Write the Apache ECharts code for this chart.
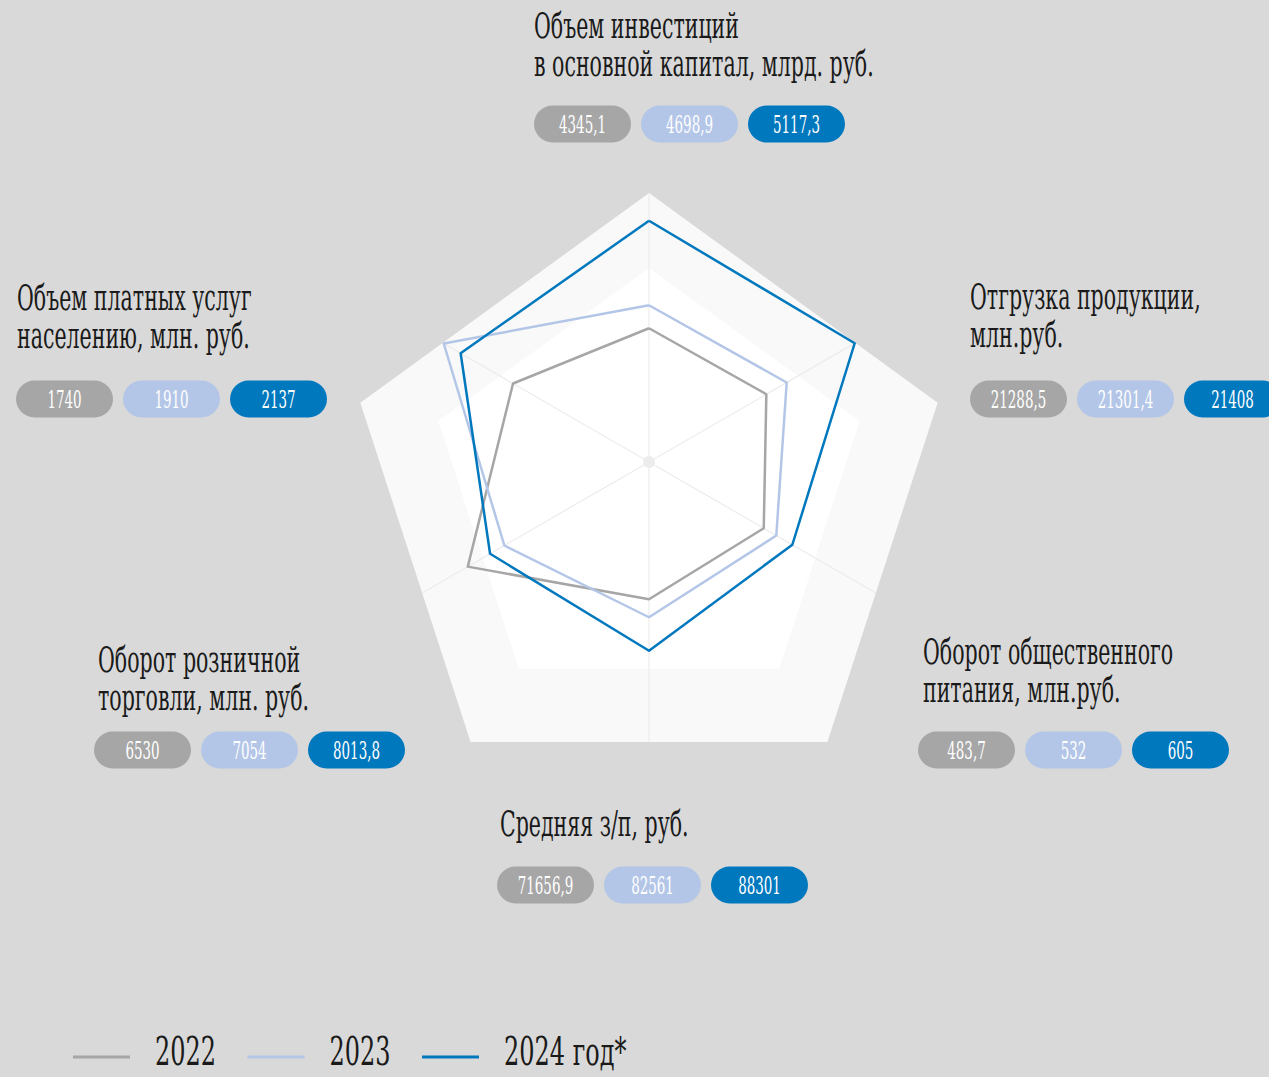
<!DOCTYPE html>
<html>
<head>
<meta charset="utf-8">
<title>Радар показателей</title>
<script src="https://cdn.jsdelivr.net/npm/echarts@6/dist/echarts.min.js"></script>
<style>
  html, body { margin: 0; padding: 0; background: #d9d9d9; }
  #chart { width: 1269px; height: 1077px; }
</style>
</head>
<body>
<div id="chart"></div>
<script>
// axes in ECharts radar order: from the top, counter-clockwise
const categories = [
  ['Объем инвестиций', 'в основной капитал, млрд. руб.'],
  ['Объем платных услуг', 'населению, млн. руб.'],
  ['Оборот розничной', 'торговли, млн. руб.'],
  ['Средняя з/п, руб.'],
  ['Оборот общественного', 'питания, млн.руб.'],
  ['Отгрузка продукции,', 'млн.руб.']
]
const years = ['2022', '2023', '2024 год*']

// printed values (badges)
const values2022 = [4345.1, 1740, 6530, 71656.9, 483.7, 21288.5]
const values2023 = [4698.9, 1910, 7054, 82561, 532, 21301.4]
const values2024 = [5117.3, 2137, 8013.8, 88301, 605, 21408]

// position of each line on its axis (0-100)
const shape2022 = [53.5, 62.8, 83.7, 54.9, 53.0, 54.2]
const shape2023 = [62.7, 94.8, 66.8, 62.1, 58.8, 63.6]
const shape2024 = [96.5, 87.0, 73.4, 75.5, 66.2, 95.0]

const colors = ['#a6a6a6', '#b4c6e7', '#0078be']
const FONT = "'DejaVu Serif'"
const SX = 0.57
const center = [649, 462]
const outer = { c: [649, 496.5], r: 303.5 }
const inner = { c: [649, 489.5], r: 221.5 }
// heading x, first line y, badges x, badges y
const labelAt = [
  [534, 26, 534, 124],
  [17, 298, 16, 399],
  [98, 660, 94, 750],
  [500, 824, 497, 885],
  [923, 652, 918, 750],
  [970, 297, 970, 399]
]

const chart = echarts.init(document.getElementById('chart'), null, { renderer: 'svg' })

// outer pentagon corners, to stop the spokes at its edge
const pent = []
for (let i = 0; i < 5; i++) {
  const a = Math.PI / 2 + (i * 2 * Math.PI) / 5
  pent.push([outer.c[0] + outer.r * Math.cos(a), outer.c[1] - outer.r * Math.sin(a)])
}
function rayLen(a) {
  const dx = Math.cos(a), dy = -Math.sin(a)
  let best = Infinity
  for (let i = 0; i < 5; i++) {
    const p = pent[i], q = pent[(i + 1) % 5]
    const ex = q[0] - p[0], ey = q[1] - p[1]
    const den = dx * ey - dy * ex
    if (Math.abs(den) < 1e-9) continue
    const wx = p[0] - center[0], wy = p[1] - center[1]
    const t = (wx * ey - wy * ex) / den
    const u = (wx * dy - wy * dx) / den
    if (t > 0 && u >= 0 && u <= 1) best = Math.min(best, t)
  }
  return best
}

const fmt = (v) => String(v).replace('.', ',')
const allValues = [values2022, values2023, values2024]
const graphics = []

// spokes + centre dot
for (let k = 0; k < 6; k++) {
  const a = Math.PI / 2 + (k * Math.PI) / 3
  const len = rayLen(a)
  graphics.push({
    type: 'line', z: 1, silent: true,
    shape: { x1: center[0], y1: center[1], x2: center[0] + len * Math.cos(a), y2: center[1] - len * Math.sin(a) },
    style: { stroke: '#ececec', lineWidth: 1.2 }
  })
}
graphics.push({ type: 'circle', z: 1, shape: { cx: center[0], cy: center[1], r: 6 }, style: { fill: '#ececec' } })

// headings and value badges
categories.forEach((lines, i) => {
  const [hx, hy, bx, by] = labelAt[i]
  lines.forEach((t, li) => {
    graphics.push({
      type: 'text', z: 5, x: hx, y: hy + li * 38, scaleX: SX,
      style: { text: t, fill: '#1a1a1a', fontSize: 36, fontFamily: FONT, align: 'left', verticalAlign: 'middle' }
    })
  })
  allValues.forEach((vals, j) => {
    const x = bx + j * 107
    graphics.push({
      type: 'rect', z: 5,
      shape: { x: x, y: by - 18.5, width: 97, height: 37, r: 18.5 },
      style: { fill: colors[j] }
    })
    graphics.push({
      type: 'text', z: 6, x: x + 48.5, y: by + 1, scaleX: 0.56,
      style: { text: fmt(vals[i]), fill: '#ffffff', fontSize: 24, fontFamily: FONT, align: 'center', verticalAlign: 'middle' }
    })
  })
})

// legend
years.forEach((y, j) => {
  const x = 73 + j * 174.5
  graphics.push({
    type: 'line', z: 5,
    shape: { x1: x, y1: 1057, x2: x + 57, y2: 1057 },
    style: { stroke: colors[j], lineWidth: 3 }
  })
  graphics.push({
    type: 'text', z: 5, x: x + 82, y: 1051, scaleX: 0.6,
    style: { text: y, fill: '#1a1a1a', fontSize: 40, fontFamily: FONT, align: 'left', verticalAlign: 'middle' }
  })
})

const bgRadar = (c, r, color) => ({
  center: c,
  radius: r,
  shape: 'polygon',
  splitNumber: 1,
  silent: true,
  indicator: [0, 1, 2, 3, 4].map(() => ({ min: 0, max: 1 })),
  axisName: { show: false },
  axisLine: { show: false },
  axisTick: { show: false },
  axisLabel: { show: false },
  splitLine: { show: false },
  splitArea: { show: true, areaStyle: { color: [color] } }
})

const option = {
  backgroundColor: '#d9d9d9',
  animation: false,
  radar: [
    bgRadar(outer.c, outer.r, '#f9f9f9'),
    bgRadar(inner.c, inner.r, '#ffffff'),
    {
      center: center,
      radius: 250,
      shape: 'polygon',
      splitNumber: 1,
      indicator: categories.map((c) => ({ name: c.join(' '), min: 0, max: 100 })),
      axisName: { show: false },
      axisLine: { show: false },
      splitLine: { show: false },
      splitArea: { show: false }
    }
  ],
  series: [
    {
      type: 'radar',
      radarIndex: 2,
      symbol: 'none',
      z: 3,
      data: [shape2022, shape2023, shape2024].map((v, j) => ({
        name: years[j],
        value: v,
        lineStyle: { color: colors[j], width: 2.5 },
        itemStyle: { color: colors[j] }
      }))
    }
  ],
  graphic: graphics
}

chart.setOption(option)
</script>
</body>
</html>
